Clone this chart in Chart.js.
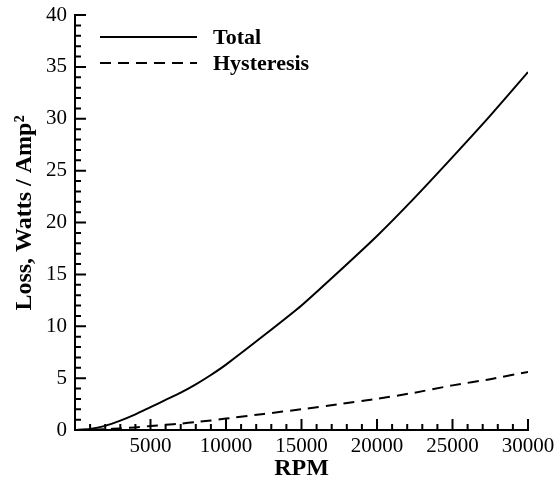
<!DOCTYPE html>
<html>
<head>
<meta charset="utf-8">
<script src="https://cdn.jsdelivr.net/npm/chart.js@4"></script>
<style>
  html, body { margin: 0; padding: 0; background: #fff; }
  #wrap { width: 556px; height: 479px; }
</style>
</head>
<body>
<div id="wrap"><canvas id="c" width="556" height="479"></canvas></div>
<script>
// values
const rpm        = [0, 1000, 2000, 3000, 4000, 5000, 6000, 7000, 8000, 9000, 10000, 12500, 15000, 17500, 20000, 22500, 25000, 27500, 30000];
const total      = [0, 0.1, 0.4, 0.9, 1.5, 2.2, 2.9, 3.6, 4.4, 5.3, 6.3, 9.1, 12.0, 15.3, 18.7, 22.4, 26.3, 30.3, 34.5];
const hysteresis = [0, 0.02, 0.08, 0.15, 0.25, 0.38, 0.5, 0.62, 0.76, 0.92, 1.1, 1.55, 2.0, 2.5, 3.0, 3.6, 4.3, 4.9, 5.6];
const seriesNames = ['Total', 'Hysteresis'];
const xTitle = 'RPM';
const yTitle = 'Loss, Watts / Amp²';

const SERIF = '"Liberation Serif", "Times New Roman", serif';

const pts = (ys) => rpm.map((x, i) => ({ x, y: ys[i] }));

// inward major/minor ticks, axis titles and in-plot legend
const decor = {
  id: 'decor',
  afterDraw(chart) {
    const { ctx, scales: { x, y } } = chart;
    ctx.save();
    ctx.strokeStyle = '#000';
    ctx.lineWidth = 2;
    ctx.beginPath();
    for (let v = 0; v <= 30000; v += 1000) {
      const px = x.getPixelForValue(v);
      const len = v % 5000 === 0 ? 11 : 6;
      ctx.moveTo(px, y.bottom); ctx.lineTo(px, y.bottom - len);
    }
    for (let v = 0; v <= 40; v += 1) {
      const py = y.getPixelForValue(v);
      const len = v % 5 === 0 ? 11 : 6;
      ctx.moveTo(x.left, py); ctx.lineTo(x.left + len, py);
    }
    ctx.stroke();

    ctx.fillStyle = '#000';
    ctx.textBaseline = 'middle';

    // axis titles
    ctx.font = 'bold 24px ' + SERIF;
    ctx.textAlign = 'center';
    ctx.fillText(xTitle, (x.left + x.right) / 2, 469);
    ctx.save();
    ctx.translate(25, 213);
    ctx.rotate(-Math.PI / 2);
    ctx.fillText(yTitle, 0, 0);
    ctx.restore();

    // legend
    ctx.font = 'bold 22px ' + SERIF;
    ctx.textAlign = 'left';
    chart.data.datasets.forEach((ds, i) => {
      const ly = 37 + i * 26;
      ctx.setLineDash(ds.borderDash || []);
      ctx.lineWidth = ds.borderWidth;
      ctx.beginPath();
      ctx.moveTo(100, ly); ctx.lineTo(197, ly);
      ctx.stroke();
      ctx.setLineDash([]);
      ctx.fillText(ds.label, 213, ly + 1);
    });
    ctx.restore();
  }
};

new Chart(document.getElementById('c'), {
  type: 'line',
  data: {
    datasets: [
      { label: seriesNames[0], data: pts(total), borderColor: '#000', borderWidth: 2, pointRadius: 0, tension: 0.2, fill: false },
      { label: seriesNames[1], data: pts(hysteresis), borderColor: '#000', borderWidth: 2, borderDash: [11, 7], pointRadius: 0, tension: 0.2, fill: false },
    ],
  },
  options: {
    animation: false, responsive: false, devicePixelRatio: 1,
    layout: { padding: { left: 0, right: 28, top: 15, bottom: 0 } },
    plugins: { legend: { display: false }, tooltip: { enabled: false } },
    scales: {
      x: {
        type: 'linear', min: 0, max: 30000,
        ticks: { stepSize: 5000, color: '#000', font: { family: SERIF, size: 21 }, padding: 4, maxRotation: 0,
                 callback: v => v === 0 ? '' : String(v) },
        grid: { display: false, drawTicks: false },
        border: { display: true, color: '#000', width: 2 },
        afterFit: s => { s.height = 49; s.paddingLeft = 0; s.paddingRight = 0; },
      },
      y: {
        min: 0, max: 40,
        ticks: { stepSize: 5, color: '#000', font: { family: SERIF, size: 21 }, padding: 8 },
        grid: { display: false, drawTicks: false },
        border: { display: true, color: '#000', width: 2 },
        afterFit: s => { s.width = 75; s.paddingTop = 0; s.paddingBottom = 0; },
      },
    },
  },
  plugins: [decor],
});
</script>
</body>
</html>
